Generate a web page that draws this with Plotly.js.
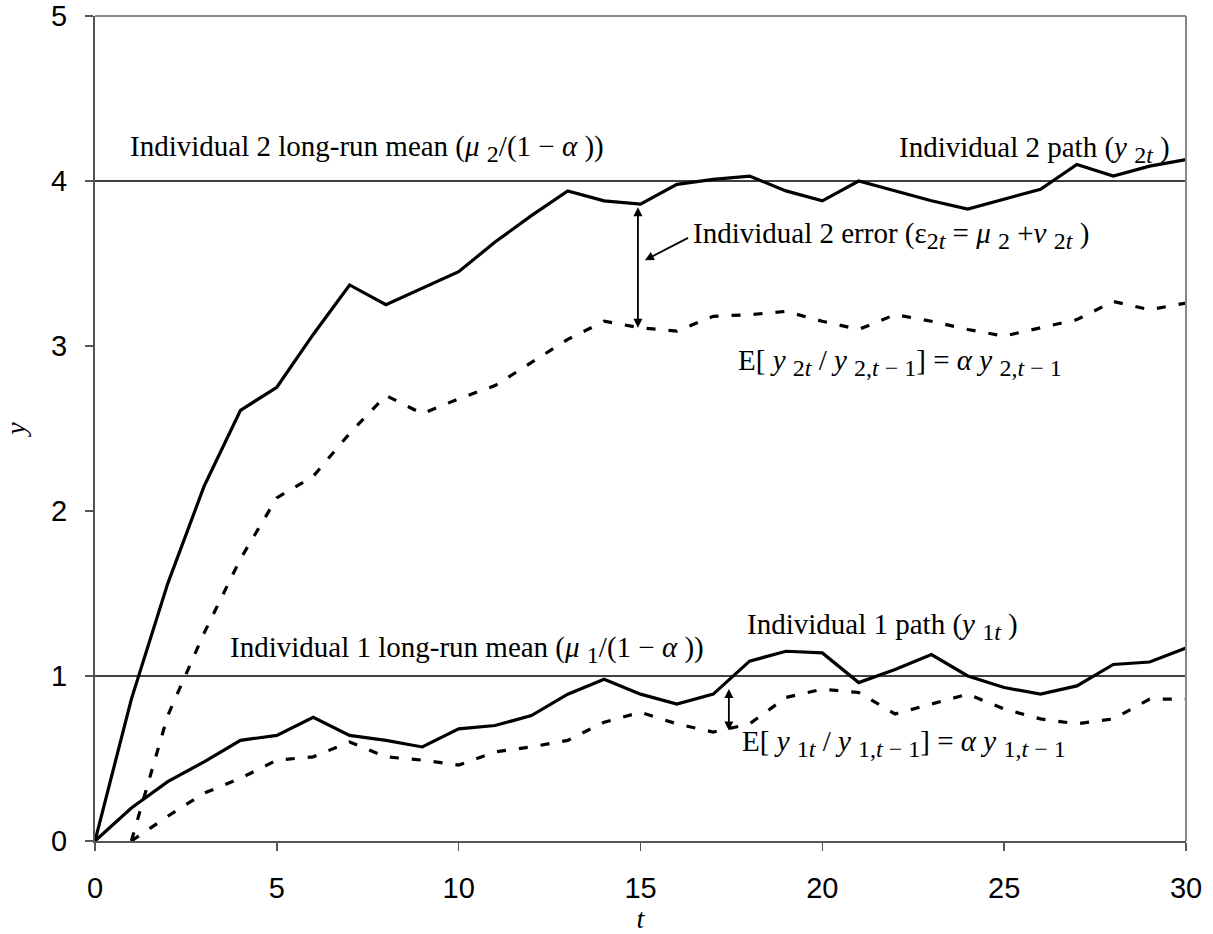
<!DOCTYPE html>
<html>
<head>
<meta charset="utf-8">
<script src="https://cdn.plot.ly/plotly-3.0.1.min.js"></script>
<style>html,body{margin:0;padding:0;background:#fff;}#chart{width:1213px;height:934px;}</style>
</head>
<body>
<div id="chart"></div>
<script>
// Time periods
const tPath = [0,1,2,3,4,5,6,7,8,9,10,11,12,13,14,15,16,17,18,19,20,21,22,23,24,25,26,27,28,29,30];
const tExp  = [1,2,3,4,5,6,7,8,9,10,11,12,13,14,15,16,17,18,19,20,21,22,23,24,25,26,27,28,29,30];

// Individual 2 path (y2t)
const ind2Path = [0,0.86,1.56,2.15,2.61,2.75,3.07,3.37,3.25,3.35,3.45,3.63,3.79,3.94,3.88,3.86,3.98,4.01,4.03,3.94,3.88,4.00,3.94,3.88,3.83,3.89,3.95,4.10,4.03,4.09,4.13];
// E[y2t / y2,t-1]
const ind2Exp = [0,0.76,1.26,1.71,2.08,2.21,2.47,2.70,2.59,2.68,2.76,2.90,3.04,3.15,3.11,3.09,3.18,3.19,3.21,3.15,3.10,3.19,3.15,3.10,3.06,3.11,3.16,3.27,3.22,3.26];

// Individual 1 path (y1t)
const ind1Path = [0,0.20,0.36,0.48,0.61,0.64,0.75,0.64,0.61,0.57,0.68,0.70,0.76,0.89,0.98,0.89,0.83,0.89,1.09,1.15,1.14,0.96,1.04,1.13,1.00,0.93,0.89,0.94,1.07,1.085,1.17];
// E[y1t / y1,t-1]
const ind1Exp = [0,0.15,0.29,0.38,0.49,0.51,0.60,0.51,0.49,0.46,0.54,0.57,0.61,0.72,0.78,0.71,0.66,0.71,0.87,0.92,0.90,0.77,0.83,0.89,0.80,0.74,0.71,0.74,0.86,0.86];

// Long-run means
const meanX = [0,30];
const mean2 = [4,4];
const mean1 = [1,1];

// Error arrows: [t, top, bottom]
const err2 = [14.93, 3.85, 3.11];
const err1 = [17.43, 0.93, 0.67];

const xTicks = [0,5,10,15,20,25,30];
const yTicks = [0,1,2,3,4,5];

const serif = 'Liberation Serif, Times New Roman, serif';
const sans = 'Liberation Sans, Arial, sans-serif';

const traces = [
  {x: meanX, y: mean2, mode:'lines', line:{color:'#000', width:1.3}, hoverinfo:'skip'},
  {x: meanX, y: mean1, mode:'lines', line:{color:'#000', width:1.3}, hoverinfo:'skip'},
  {x: tPath, y: ind2Path, mode:'lines', line:{color:'#000', width:3.2}},
  {x: tExp, y: ind2Exp, mode:'lines', line:{color:'#000', width:3.2, dash:'9px,13px'}},
  {x: tPath, y: ind1Path, mode:'lines', line:{color:'#000', width:3.2}},
  {x: tExp, y: ind1Exp, mode:'lines', line:{color:'#000', width:3.2, dash:'9px,13px'}}
];

const fs = 29;
function s(t) { return '<sub><span style="font-size:24px">' + t + '</span></sub>'; }
function txt(x, y, text) {
  return {x:x, y:y, xref:'x', yref:'y', text:text, showarrow:false, xanchor:'left', yanchor:'middle',
          font:{family:serif, size:fs, color:'#000'}};
}
function dbl(a) {
  return {x:a[0], y:a[2], ax:a[0], ay:a[1], xref:'x', yref:'y', axref:'x', ayref:'y', text:'', showarrow:true,
          arrowhead:2, startarrowhead:2, arrowside:'end+start', arrowsize:1, startarrowsize:1, arrowwidth:1.8, arrowcolor:'#000'};
}

const annotations = [
  txt(0.9, 4.2, 'Individual 2 long-run mean (<i>μ</i> ' + s('2') + '/(1 − <i>α</i> ))'),
  txt(22.05, 4.19, 'Individual 2 path (<i>y</i> ' + s('2<i>t</i>') + ' )'),
  txt(16.4, 3.67, 'Individual 2 error (ε' + s('2<i>t</i>') + ' = <i>μ</i> ' + s('2') + ' +<i>v</i> ' + s('2<i>t</i>') + ' )'),
  txt(17.62, 2.9, 'E[ <i>y</i> ' + s('2<i>t</i>') + ' / <i>y</i> ' + s('2,<i>t</i> − 1') + '] = <i>α</i> <i>y</i> ' + s('2,<i>t</i> − 1')),
  txt(17.87, 1.30, 'Individual 1 path (<i>y</i> ' + s('1<i>t</i>') + ' )'),
  txt(3.66, 1.16, 'Individual 1 long-run mean (<i>μ</i> ' + s('1') + '/(1 − <i>α</i> ))'),
  txt(17.73, 0.59, 'E[ <i>y</i> ' + s('1<i>t</i>') + ' / <i>y</i> ' + s('1,<i>t</i> − 1') + '] = <i>α</i> <i>y</i> ' + s('1,<i>t</i> − 1')),
  dbl(err2),
  dbl(err1),
  {x:15.12, y:3.52, ax:16.35, ay:3.66, xref:'x', yref:'y', axref:'x', ayref:'y', text:'', showarrow:true,
   arrowhead:2, arrowsize:1, arrowwidth:1.8, arrowcolor:'#000'}
];

const layout = {
  width:1213, height:934,
  margin:{l:95, r:27, t:16, b:93, pad:0},
  paper_bgcolor:'#fff', plot_bgcolor:'#fff',
  showlegend:false,
  xaxis:{range:[0,30], tickvals:xTicks, ticktext:xTicks.map(String), showgrid:false, zeroline:false,
         showline:true, linecolor:'#555', linewidth:2, ticks:'outside', ticklen:8, tickcolor:'#555', tickwidth:1.5,
         ticklabelstandoff:12,
         tickfont:{family:sans, size:29, color:'#000'},
         title:{text:'<i>t</i>', font:{family:serif, size:28, color:'#000'}, standoff:2}},
  yaxis:{range:[0,5], tickvals:yTicks, ticktext:yTicks.map(String), showgrid:false, zeroline:false,
         showline:true, linecolor:'#555', linewidth:2, ticks:'outside', ticklen:8, tickcolor:'#555', tickwidth:1.5,
         ticklabelstandoff:12,
         tickfont:{family:sans, size:29, color:'#000'},
         title:{text:'<i>y</i>', font:{family:serif, size:28, color:'#000'}, standoff:22}},
  shapes:[
    {type:'line', xref:'paper', yref:'paper', x0:0, x1:1, y0:1, y1:1, line:{color:'#888', width:2}},
    {type:'line', xref:'paper', yref:'paper', x0:1, x1:1, y0:0, y1:1, line:{color:'#888', width:2}}
  ],
  annotations: annotations
};

Plotly.newPlot('chart', traces, layout, {displayModeBar:false, staticPlot:true});
</script>
</body>
</html>
